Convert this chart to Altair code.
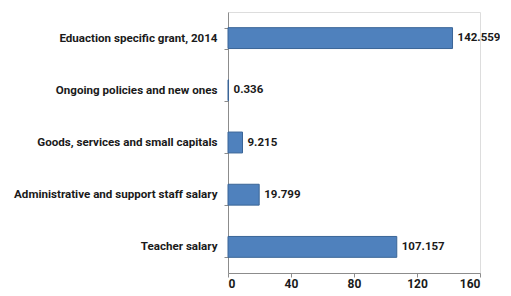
import altair as alt
import pandas as pd

categories = [
    "Eduaction specific grant, 2014",
    "Ongoing policies and new ones",
    "Goods, services and small capitals",
    "Administrative and support staff salary",
    "Teacher salary",
]
values = [142.559, 0.336, 9.215, 19.799, 107.157]
labels = ["142.559", "0.336", "9.215", "19.799", "107.157"]
x_ticks = [0, 40, 80, 120, 160]

df = pd.DataFrame({"category": categories, "value": values, "label": labels})

FONT = "Roboto"

y_enc = alt.Y(
    "category:N",
    sort=categories,
    title=None,
    scale=alt.Scale(paddingInner=0.6, paddingOuter=0.3),
    axis=alt.Axis(
        tickBand="extent",
        labelFont=FONT,
        labelFontSize=11.6,
        labelFontWeight="bold",
        labelColor="#1a1a1a",
        labelPadding=7,
        tickSize=4,
        tickColor="#8c8c8c",
        domainColor="#8c8c8c",
        labelLimit=300,
    ),
)

x_enc = alt.X(
    "value:Q",
    title=None,
    scale=alt.Scale(domain=[0, 160], nice=False),
    axis=alt.Axis(
        values=x_ticks,
        grid=False,
        labelFont=FONT,
        labelFontSize=12,
        labelFontWeight="bold",
        labelColor="#1a1a1a",
        tickSize=4,
        tickColor="#8c8c8c",
        domainColor="#8c8c8c",
        labelPadding=1,
    ),
)

bars = alt.Chart(df).mark_bar(
    color="#4F81BD", stroke="#3A6597", strokeWidth=1
).encode(x=x_enc, y=y_enc)

text = alt.Chart(df).mark_text(
    align="left", baseline="middle", dx=5, font=FONT, fontSize=11.5,
    fontWeight="bold", color="#1a1a1a"
).encode(x=alt.X("value:Q"), y=alt.Y("category:N", sort=categories), text="label:N")

chart = (bars + text).properties(
    width=252,
    height=261,
    autosize=alt.AutoSizeParams(type="none"),
    padding={"left": 220, "top": 4, "right": 20, "bottom": 20},
).configure_view(stroke=None).configure(background="white")

chart.save("out.html", embed_options={"renderer": "svg", "actions": False})
